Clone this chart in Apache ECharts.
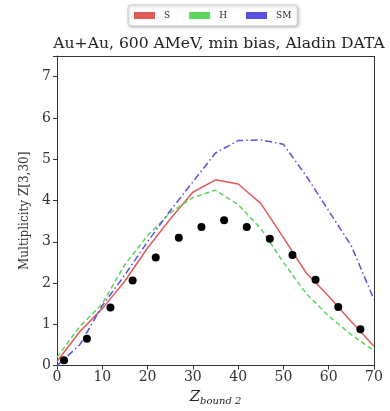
<!DOCTYPE html>
<html>
<head>
<meta charset="utf-8">
<script src="https://cdn.jsdelivr.net/npm/echarts@6/dist/echarts.min.js"></script>
<style>
  body { margin: 0; background: #ffffff; }
  #graphics { width: 390px; height: 411px; }
</style>
</head>
<body>
<div id="graphics"></div>
<script>
// Model curves, sampled every 5 units of Z_bound2
const zModel = [0, 5, 10, 15, 20, 25, 30, 35, 40, 45, 50, 55, 60, 65, 70];
const sValues = [0.1, 0.82, 1.38, 2.05, 2.85, 3.55, 4.2, 4.5, 4.4, 3.93, 3.1, 2.25, 1.68, 1.06, 0.47];
const hValues = [0.2, 0.94, 1.5, 2.45, 3.15, 3.7, 4.07, 4.25, 3.9, 3.32, 2.5, 1.75, 1.2, 0.75, 0.36];
const smValues = [0.0, 0.5, 1.45, 2.2, 3.0, 3.75, 4.45, 5.15, 5.45, 5.47, 5.36, 4.6, 3.75, 2.9, 1.6];

// Aladin data points
const zData = [1.55, 6.6, 11.8, 16.7, 21.8, 26.9, 31.9, 36.9, 41.9, 47.0, 52.0, 57.1, 62.1, 67.0];
const multData = [0.13, 0.65, 1.41, 2.06, 2.62, 3.1, 3.36, 3.52, 3.36, 3.07, 2.68, 2.08, 1.42, 0.88];

const serif = "DejaVu Serif";

function pairs(xs, ys) {
    let out = [];
    for (let i = 0; i < xs.length; i++) {
        out.push([xs[i], ys[i]]);
    }
    return out;
}

var myChart = echarts.init(document.getElementById('graphics'));

var option = {
    animation: false,
    title: {
        text: 'Au+Au, 600 AMeV, min bias, Aladin DATA',
        left: 214,
        textAlign: 'center',
        top: 31,
        textStyle: { fontFamily: serif, fontWeight: 'normal', fontSize: 15.6, color: '#222' }
    },
    legend: {
        data: ['S', 'H', 'SM'],
        top: 5,
        left: 128,
        itemWidth: 21,
        itemHeight: 7,
        itemGap: 19,
        padding: [6, 6],
        borderColor: '#cccccc',
        borderWidth: 1,
        borderRadius: 3,
        backgroundColor: '#ffffff',
        shadowColor: 'rgba(0,0,0,0.25)',
        shadowBlur: 3,
        shadowOffsetX: 1,
        shadowOffsetY: 1,
        textStyle: { fontFamily: serif, fontSize: 9, color: '#222', padding: [0, 0, 0, 4] },
        icon: 'rect'
    },
    grid: { left: 57, right: 16, top: 56, bottom: 40 },
    xAxis: {
        type: 'value',
        min: 0, max: 70, interval: 10,
        name: '{z|Z}{sub|bound 2}',
        nameLocation: 'middle',
        nameGap: 22,
        nameTextStyle: {
            rich: {
                z: { fontFamily: serif, fontStyle: 'italic', fontSize: 15, color: '#222' },
                sub: { fontFamily: serif, fontStyle: 'italic', fontSize: 10, color: '#222', verticalAlign: 'bottom', padding: [8, 0, 0, 0] }
            }
        },
        axisLine: { show: true, lineStyle: { color: '#333', width: 1 } },
        axisTick: { show: true, inside: false, length: 4, lineStyle: { color: '#333' } },
        axisLabel: { fontFamily: serif, fontSize: 14, color: '#333', margin: 5 },
        splitLine: { show: false }
    },
    yAxis: {
        type: 'value',
        min: 0, max: 7.5, interval: 1,
        name: 'Multiplicity Z[3,30]',
        nameLocation: 'middle',
        nameGap: 19,
        nameTextStyle: { fontFamily: serif, fontSize: 12, color: '#333', padding: [0, 0, 0, 0] },
        axisLine: { show: true, lineStyle: { color: '#333', width: 1 } },
        axisTick: { show: true, inside: false, length: 4, lineStyle: { color: '#333' } },
        axisLabel: {
            fontFamily: serif, fontSize: 14, color: '#333', margin: 6,
            formatter: function (v) { return Number.isInteger(v) ? String(v) : ''; }
        },
        splitLine: { show: false }
    },
    series: [
        {
            name: 'S', type: 'line', data: pairs(zModel, sValues),
            symbol: 'none', color: '#e05a5a',
            lineStyle: { width: 1.5, color: '#e05a5a' }
        },
        {
            name: 'H', type: 'line', data: pairs(zModel, hValues),
            symbol: 'none', color: '#5ad85a',
            lineStyle: { width: 1.5, color: '#5ad85a', type: [5, 3] }
        },
        {
            name: 'SM', type: 'line', data: pairs(zModel, smValues),
            symbol: 'none', color: '#5a50e0',
            lineStyle: { width: 1.5, color: '#5a50e0', type: [7, 3, 1.5, 3] }
        },
        {
            name: 'DATA', type: 'scatter', data: pairs(zData, multData),
            symbol: 'circle', symbolSize: 8,
            itemStyle: { color: '#000000', opacity: 1 }, z: 5
        },
        {
            // top and right frame of the box
            type: 'line', data: [], silent: true,
            markLine: {
                symbol: 'none', silent: true, animation: false,
                label: { show: false },
                lineStyle: { color: '#333', width: 1, type: 'solid' },
                data: [
                    [{ coord: [0, 7.5] }, { coord: [70, 7.5] }],
                    [{ coord: [70, 0] }, { coord: [70, 7.5] }]
                ]
            }
        }
    ]
};

myChart.setOption(option);
</script>
</body>
</html>
